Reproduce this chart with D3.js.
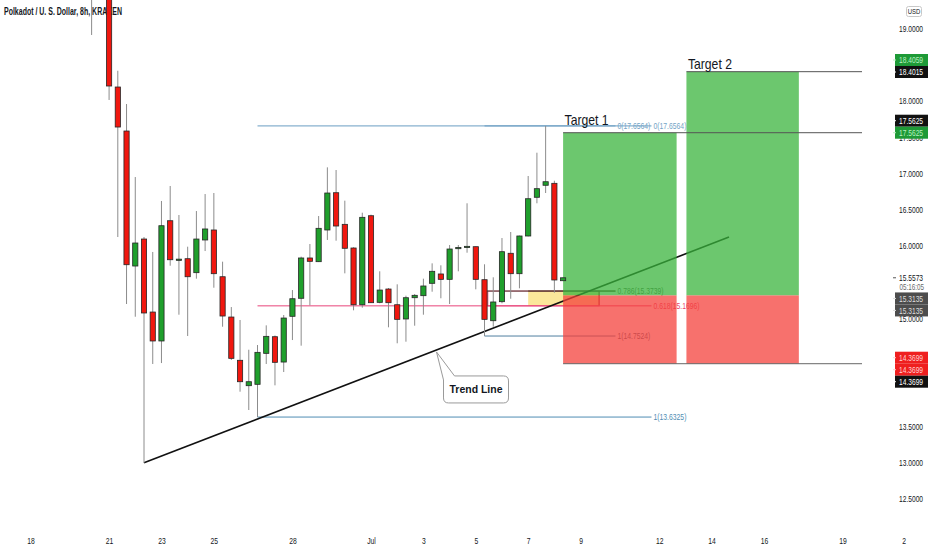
<!DOCTYPE html>
<html><head><meta charset="utf-8">
<script src="https://cdn.jsdelivr.net/npm/d3@7"></script>
<style>body{margin:0;background:#fff;} svg{display:block;font-family:"Liberation Sans",Arial,sans-serif;}</style>
</head><body><svg id="c" width="932" height="550"></svg>
<script>
// ---------- data ----------
const title = "Polkadot / U. S. Dollar, 8h, KRAKEN";
const firstCandle = "2021-06-20T08:00";   // 8h candles
const opens  = [19.75,19.80,19.90,18.194,17.586,15.720,16.093,15.084,14.684,16.346,15.803,15.821,15.628,16.080,16.218,15.572,15.015,14.417,14.066,14.085,14.513,14.743,14.393,15.025,15.274,15.831,15.780,16.218,16.733,16.296,15.969,15.185,16.415,15.218,15.402,15.185,14.988,15.282,15.310,15.481,15.610,15.536,15.969,15.976,15.987,15.531,14.964,15.227,15.896,15.614,16.135,16.670,16.836,16.863,15.517];
const highs  = [20.10,20.20,20.00,18.419,17.959,16.950,16.121,15.914,16.619,16.826,16.425,15.987,16.480,16.715,16.729,15.780,15.153,14.974,14.563,14.628,14.900,14.760,15.043,15.388,15.850,16.024,16.411,17.084,17.047,16.623,15.980,16.457,16.430,15.647,15.416,15.467,15.310,15.333,15.545,15.757,15.730,16.010,16.010,16.587,15.990,15.744,15.564,16.107,16.190,16.140,16.964,17.286,17.6564,16.899,15.564];
const lows   = [18.913,19.55,18.015,16.121,15.195,15.019,13.000,14.366,14.379,15.724,15.047,14.753,15.545,15.927,15.420,14.881,14.421,13.983,13.730,13.6325,14.366,14.071,14.255,14.697,14.619,15.177,15.775,16.080,16.070,15.619,15.108,15.144,15.209,15.205,14.873,14.652,14.674,14.895,15.047,15.365,15.274,15.195,15.647,15.904,15.398,14.7524,14.881,15.205,15.268,15.412,16.130,16.587,16.729,15.351,15.517];
const closes = [19.70,19.90,18.208,17.641,15.738,16.038,15.071,14.684,16.277,15.807,15.815,15.572,16.093,16.232,15.614,15.029,14.444,14.121,14.121,14.527,14.748,14.389,15.001,15.268,15.831,15.785,16.241,16.729,16.273,15.965,15.185,16.393,15.213,15.388,15.213,14.983,15.282,15.315,15.444,15.647,15.536,15.955,15.976,15.992,15.536,14.983,15.223,15.918,15.614,16.135,16.650,16.789,16.885,15.527,15.5573];

// price-axis labels (those hidden behind price tags are left out)
const priceTicks = [12.5,13,13.5,14.5,15,16,16.5,17,17.5,18,19];
const dateTicks  = ["2021-06-18T00:00","2021-06-21T00:00","2021-06-23T00:00","2021-06-25T00:00","2021-06-28T00:00","2021-07-01T00:00","2021-07-03T00:00","2021-07-05T00:00","2021-07-07T00:00","2021-07-09T00:00","2021-07-12T00:00","2021-07-14T00:00","2021-07-16T00:00","2021-07-19T00:00","2021-07-21T08:00"];
const dateLabels = ["18","21","23","25","28","Jul","3","5","7","9","12","14","16","19","2"];

// trend line (time, price)
const trendTimes  = ["2021-06-22T08:00","2021-07-14T16:00"];
const trendPrices = [13.0, 16.12];
const calloutTime = "2021-07-03T12:00";
const calloutText = "Trend Line";

// fib retracements
const fibBigTimes   = ["2021-06-26T16:00","2021-07-11T17:00"];
const fibBigLevels  = ["0","0.618","1"];
const fibBigPrices  = [17.6564,15.1696,13.6325];
const fibSmallTimes = ["2021-07-05T08:00","2021-07-10T08:00"];
const fibSmallLevels= ["0","0.786","1"];
const fibSmallPrices= [17.6564,15.3739,14.7524];

// zone rectangles
const zoneTimes  = ["2021-07-05T11:00","2021-07-07T00:00","2021-07-09T17:00"];
const zonePrices = [15.3739,15.1696];

// long positions
const entryPrice = 15.3135, stopPrice = 14.3699;
const targetNames  = ["Target 1","Target 2"];
const targetPrices = [17.5625,18.4059];
const posStart = ["2021-07-08T08:00","2021-07-13T01:00"];
const posEnd   = ["2021-07-12T16:00","2021-07-17T08:00"];

// right axis price tags
const tagPrices = [18.4015,18.4015,17.5625,17.5625,15.3135,15.3135,14.3699,14.3699,14.3699];
const tagTexts  = ["18.4059","18.4015","17.5625","17.5625","15.3135","15.3135","14.3699","14.3699","14.3699"];
const tagBg     = ["#1e9a37","#111111","#111111","#1e9a37","#4d4d4d","#4d4d4d","#ef1f1f","#ef1f1f","#111111"];
const tagFg     = ["#b8f0c0","#ffffff","#ffffff","#b8f0c0","#dddddd","#dddddd","#ffd0d0","#ffd0d0","#ffffff"];
const tagShift  = [-12,0,-12,0,3,15,-6,6,18];
const lastPrice = 15.5573, countdown = "05:16:05";

// ---------- setup ----------
const T = s => new Date(s + ":00Z");
const svg = d3.select("#c");
const x = d3.scaleUtc().domain([T("2021-06-18T00:00"), T("2021-07-19T00:00")]).range([30.5, 842.5]);
const y = d3.scaleLinear().domain([12.5, 19]).range([499, 28.7]);
const plotR = 862;

function squeeze(sel, k) {
  sel.each(function () {
    const L = this.getComputedTextLength();
    this.setAttribute("textLength", (L * k).toFixed(2));
    this.setAttribute("lengthAdjust", "spacingAndGlyphs");
  });
}

svg.append("defs").append("clipPath").attr("id", "plot")
  .append("rect").attr("x", 0).attr("y", 0).attr("width", plotR).attr("height", 520);

// title
svg.append("text").attr("x", 4).attr("y", 15).attr("font-size", 10).attr("font-weight", 600)
  .attr("fill", "#131722").attr("textLength", 118).attr("lengthAdjust", "spacingAndGlyphs").text(title);

const g = svg.append("g").attr("clip-path", "url(#plot)");

// zone rectangles (under the positions)
g.append("rect").attr("x", x(T(zoneTimes[1]))).attr("y", y(zonePrices[0]))
  .attr("width", x(T(zoneTimes[2])) - x(T(zoneTimes[1]))).attr("height", y(zonePrices[1]) - y(zonePrices[0]))
  .attr("fill", "#fbe79a");
g.append("rect").attr("x", x(T(zoneTimes[0]))).attr("y", y(zonePrices[0]))
  .attr("width", x(T(zoneTimes[2])) - x(T(zoneTimes[0]))).attr("height", y(zonePrices[1]) - y(zonePrices[0]))
  .attr("fill", "none").attr("stroke", "#e8457a").attr("stroke-width", 1);
g.append("line").attr("x1", x(T(zoneTimes[2]))).attr("x2", x(T(zoneTimes[2])))
  .attr("y1", y(zonePrices[0])).attr("y2", y(zonePrices[1])).attr("stroke", "#9a4a2a").attr("stroke-width", 1);

// fib retracements
function drawFib(times, levels, prices, colors, tcolors) {
  const x0 = x(T(times[0])), x1 = x(T(times[1]));
  prices.forEach((p, i) => {
    g.append("line").attr("x1", x0).attr("x2", x1).attr("y1", y(p)).attr("y2", y(p))
      .attr("stroke", colors[i]).attr("stroke-width", 1);
    const t = g.append("text").attr("x", x1 + 2).attr("y", y(p)).attr("dy", "0.35em")
      .attr("font-size", 8.5).attr("fill", tcolors[i]).text(`${levels[i]}(${p.toFixed(4)})`);
    squeeze(t, 0.8);
  });
}
drawFib(fibBigTimes, fibBigLevels, fibBigPrices, ["#6a9ec2", "#e8457a", "#4f8db3"], ["#74a4c6", "#e8456a", "#4f8db3"]);
drawFib(fibSmallTimes, fibSmallLevels, fibSmallPrices, ["#6a9ec2", "#4a4a3a", "#4f7f9f"], ["#74a4c6", "#5f6e55", "#556a7a"]);
// zone top edge darker
g.append("line").attr("x1", x(T(zoneTimes[1]))).attr("x2", x(T(fibSmallTimes[1])))
  .attr("y1", y(zonePrices[0])).attr("y2", y(zonePrices[0])).attr("stroke", "#5a3a2a").attr("stroke-width", 1);

// trend line
g.append("line").attr("x1", x(T(trendTimes[0]))).attr("y1", y(trendPrices[0]))
  .attr("x2", x(T(trendTimes[1]))).attr("y2", y(trendPrices[1])).attr("stroke", "#111").attr("stroke-width", 1.6);

// positions (semi-transparent, over lines)
posStart.forEach((s, i) => {
  const xa = x(T(s)), xb = x(T(posEnd[i]));
  g.append("rect").attr("x", xa).attr("y", y(targetPrices[i])).attr("width", xb - xa)
    .attr("height", y(entryPrice) - y(targetPrices[i])).attr("fill", "#38b43c").attr("fill-opacity", 0.74);
  g.append("rect").attr("x", xa).attr("y", y(entryPrice)).attr("width", xb - xa)
    .attr("height", y(stopPrice) - y(entryPrice)).attr("fill", "#f43f3a").attr("fill-opacity", 0.74);
});
// price lines to the axis
g.append("line").attr("x1", x(T(posStart[0]))).attr("x2", plotR).attr("y1", y(targetPrices[0])).attr("y2", y(targetPrices[0]))
  .attr("stroke", "#555").attr("stroke-width", 1);
g.append("line").attr("x1", x(T(posStart[1]))).attr("x2", plotR).attr("y1", y(targetPrices[1])).attr("y2", y(targetPrices[1]))
  .attr("stroke", "#555").attr("stroke-width", 1);
g.append("line").attr("x1", x(T(posStart[0]))).attr("x2", plotR).attr("y1", y(stopPrice)).attr("y2", y(stopPrice))
  .attr("stroke", "#666").attr("stroke-width", 1);

// candles
const candles = opens.map((o, i) => ({
  t: d3.utcHour.offset(T(firstCandle), 8 * i), o, h: highs[i], l: lows[i], c: closes[i]
}));
const cg = g.append("g");
cg.selectAll("line.w").data(candles).join("line").attr("class", "w")
  .attr("x1", d => x(d.t)).attr("x2", d => x(d.t)).attr("y1", d => y(d.h)).attr("y2", d => y(d.l))
  .attr("stroke", "#8c8c8c").attr("stroke-width", 1);
cg.selectAll("rect").data(candles).join("rect")
  .attr("x", d => x(d.t) - 2.6).attr("width", 5.2)
  .attr("y", d => y(Math.max(d.o, d.c))).attr("height", d => Math.max(1.2, Math.abs(y(d.o) - y(d.c))))
  .attr("fill", d => d.c >= d.o ? "#1f9f2c" : "#f0170f").attr("stroke", "#262626").attr("stroke-width", 0.8);

// target labels
const targetLift = [8, 3];
posStart.forEach((s, i) => {
  svg.append("text").attr("x", x(T(s)) + 1.5).attr("y", y(targetPrices[i]) - targetLift[i]).attr("font-size", 15)
    .attr("fill", "#131722").attr("textLength", 44).attr("lengthAdjust", "spacingAndGlyphs").text(targetNames[i]);
});

// callout
{
  const tt = T(calloutTime);
  const f = (tt - T(trendTimes[0])) / (T(trendTimes[1]) - T(trendTimes[0]));
  const tx = x(tt), ty = y(trendPrices[0] + f * (trendPrices[1] - trendPrices[0])) + 2;
  const x0 = tx + 7, y0 = ty + 24, x1 = x0 + 65, y1 = y0 + 27, r = 5;
  svg.append("path").attr("d",
    `M${x0 + 11},${y0} L${x1 - r},${y0} Q${x1},${y0} ${x1},${y0 + r} L${x1},${y1 - r} Q${x1},${y1} ${x1 - r},${y1} L${x0 + r},${y1} Q${x0},${y1} ${x0},${y1 - r} L${x0},${y0 + 4} L${tx},${ty} Z`)
    .attr("fill", "#fff").attr("stroke", "#9a9a9a").attr("stroke-width", 1);
  svg.append("text").attr("x", (x0 + x1) / 2).attr("y", (y0 + y1) / 2).attr("dy", "0.36em")
    .attr("text-anchor", "middle").attr("font-size", 11).attr("font-weight", "bold").attr("fill", "#131722")
    .attr("textLength", 53).attr("lengthAdjust", "spacingAndGlyphs").text(calloutText);
}

// right price axis
const ya = svg.append("g").attr("transform", "translate(896,0)")
  .call(d3.axisRight(y).tickValues(priceTicks).tickSize(0).tickPadding(3).tickFormat(d3.format(".4f")));
ya.select(".domain").remove();
ya.selectAll("text").attr("font-size", 9).attr("fill", "#131722").attr("font-family", "Liberation Sans, Arial, sans-serif");
squeeze(ya.selectAll("text"), 0.74);

// USD box
svg.append("rect").attr("x", 906.5).attr("y", 6.5).attr("width", 15).attr("height", 10).attr("rx", 2)
  .attr("fill", "#fff").attr("stroke", "#c8c8c8");
squeeze(svg.append("text").attr("x", 914).attr("y", 11.5).attr("dy", "0.35em").attr("text-anchor", "middle")
  .attr("font-size", 7).attr("fill", "#131722").text("USD"), 0.85);

// last price + countdown
squeeze(svg.append("text").attr("x", 899).attr("y", y(lastPrice)).attr("dy", "0.35em").attr("font-size", 9)
  .attr("fill", "#131722").text(lastPrice.toFixed(4)), 0.74);
svg.append("line").attr("x1", 893).attr("x2", 896).attr("y1", y(lastPrice)).attr("y2", y(lastPrice)).attr("stroke", "#555");
squeeze(svg.append("text").attr("x", 899.5).attr("y", y(lastPrice) + 9).attr("dy", "0.35em").attr("font-size", 8.5)
  .attr("fill", "#6a6a6a").text(countdown), 0.74);

// price tags
tagPrices.forEach((p, i) => {
  const cy = y(p) + tagShift[i];
  svg.append("rect").attr("x", 895).attr("y", cy - 6).attr("width", 33).attr("height", 12).attr("fill", tagBg[i]);
  svg.append("line").attr("x1", 893).attr("x2", 896).attr("y1", cy).attr("y2", cy).attr("stroke", tagFg[i]);
  squeeze(svg.append("text").attr("x", 899).attr("y", cy).attr("dy", "0.35em").attr("font-size", 9)
    .attr("fill", tagFg[i]).text(tagTexts[i]), 0.74);
});

// bottom time axis
const xa = svg.append("g").attr("transform", "translate(0,538)")
  .call(d3.axisBottom(x).tickValues(dateTicks.map(T)).tickSize(0).tickPadding(0).tickFormat((d, i) => dateLabels[i]));
xa.select(".domain").remove();
xa.selectAll("text").attr("font-size", 9).attr("fill", "#131722").attr("font-family", "Liberation Sans, Arial, sans-serif");
squeeze(xa.selectAll("text"), 0.75);
</script></body></html>
